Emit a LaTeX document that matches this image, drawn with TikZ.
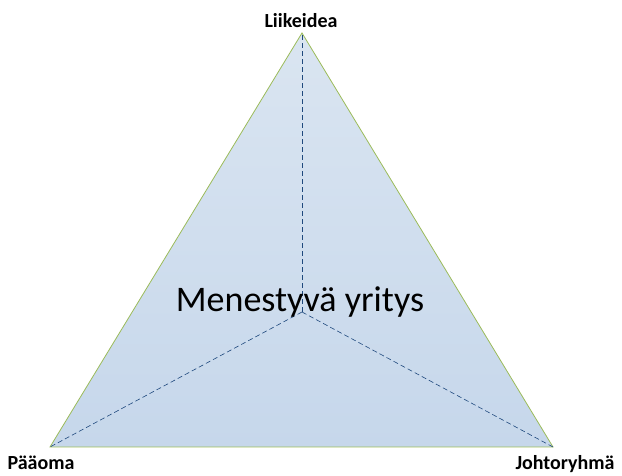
\documentclass[tikz,border=0pt]{standalone}
\usepackage{fontspec}
\setmainfont{Carlito}
\definecolor{edgegreen}{HTML}{9BBB59}
\definecolor{filltop}{HTML}{DAE5F1}
\definecolor{fillbottom}{HTML}{C6D7EB}
\definecolor{dashblue}{HTML}{1F497D}
\begin{document}
\begin{tikzpicture}[x=1pt,y=1pt,
    corner/.style={anchor=base,font=\bfseries\fontsize{20}{24}\selectfont},
    spoke/.style={draw=dashblue,dash pattern=on 5pt off 3pt,line width=0.6pt}]
  \useasboundingbox (0,0) rectangle (622,476);
  \coordinate (top) at (302,443);
  \coordinate (left) at (50,29);
  \coordinate (right) at (553,29);
  \coordinate (mid) at (302,164);
  \shade[top color=filltop,bottom color=fillbottom,draw=edgegreen,line width=0.8pt]
    (top) -- (left) -- (right) -- cycle;
  \begin{scope}[spoke]
    \draw (mid) to (top);
    \draw (mid) to (left);
    \draw (mid) to (right);
  \end{scope}
  \node[anchor=base,font=\fontsize{36}{42}\selectfont] (yritys) at (300,164) {Menestyvä yritys};
  \draw
    (301,448) node[corner] (liikeidea){Liikeidea}
    (41,6) node[corner] (paaoma){Pääoma}
    (565,6) node[corner] (johto){Johtoryhmä};
\end{tikzpicture}
\end{document}
